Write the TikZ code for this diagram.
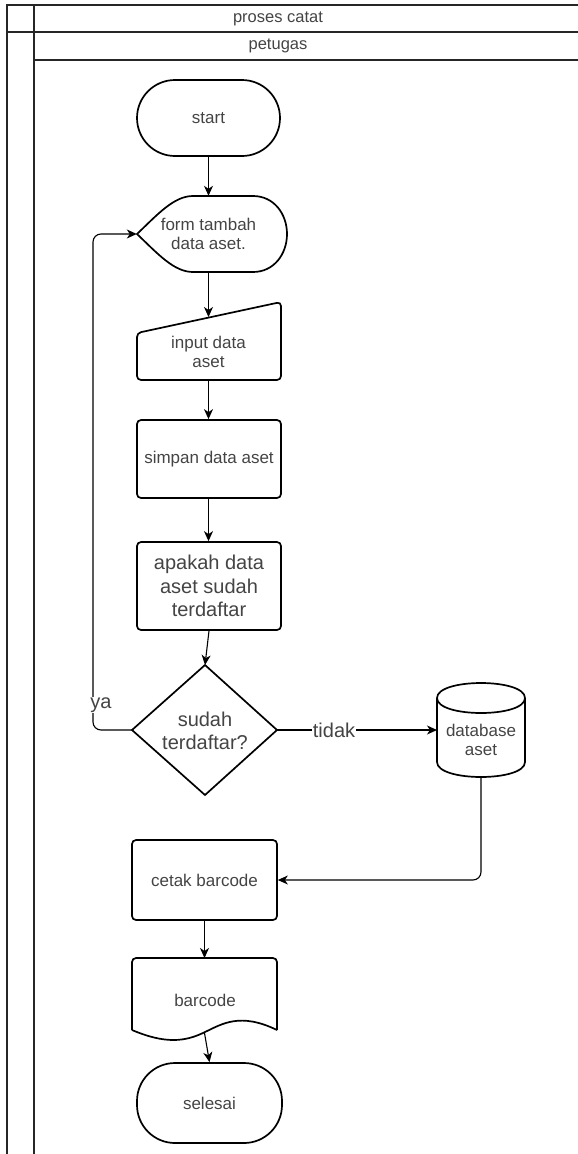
\documentclass[tikz,border=0pt]{standalone}
\usepackage{fontspec}
\setmainfont{Liberation Sans}
\usetikzlibrary{arrows.meta}
\definecolor{txt}{RGB}{68,68,68}
\begin{document}
\begin{tikzpicture}[x=1pt,y=-1pt,
  shapeline/.style={draw=black, line width=1.7pt},
  lane/.style={draw=black!85, line width=1.6pt},
  conn/.style={draw=black, line width=1.1pt, -{Stealth[length=10pt,width=9pt,inset=3pt]}},
  lbl/.style={text=txt, font=\fontsize{17}{18.5}\selectfont, align=center, inner sep=0pt},
  hdr/.style={text=txt, font=\fontsize{16.5}{18}\selectfont, inner sep=0pt},
  biglbl/.style={text=txt, font=\fontsize{20}{23}\selectfont, align=center, inner sep=0pt},
  edgelbl/.style={text=txt, font=\fontsize{20}{22}\selectfont, fill=white, inner sep=1pt},
  procbox/.style={shapeline, rectangle, rounded corners=4pt, text=txt, align=center, inner sep=0pt},
  term/.style={shapeline, rectangle, rounded corners=38pt, text=txt, align=center, inner sep=0pt,
    font=\fontsize{17}{18.5}\selectfont}
]
\useasboundingbox (0,0) rectangle (578,1154);
% swimlane frame
\draw[lane] (7,1154) -- (7,5) -- (578,5);
\draw[lane] (7,32) -- (578,32);
\draw[lane] (34,5) -- (34,1154);
\draw[lane] (34,60) -- (578,60);
\node[hdr] (pool) at (278,18.5) {proses catat};
\node[hdr] (lanename) at (278,46) {petugas};

% start
\node[term, minimum width=143pt, minimum height=76pt] (start) at (208.5,118) {start};

% form (display shape)
\draw[shapeline] (137,234) .. controls (158,214) and (174,196) .. (193,196) -- (253,196)
  .. controls (274,196) and (287,214) .. (287,234)
  .. controls (287,254) and (274,272) .. (253,272) -- (193,272)
  .. controls (174,272) and (158,254) .. (137,234) -- cycle;
\node[lbl, minimum width=143pt, minimum height=76pt] (form) at (208.5,234) {form tambah\\data aset.};

% manual input
\draw[shapeline, rounded corners=4pt] (137,333) -- (281,302) -- (281,380) -- (137,380) -- cycle;
\node[lbl] (input) at (208.5,352) {input data\\aset};
\coordinate (intop) at (208.5,317);
\coordinate (inbot) at (208.5,380);

% process boxes
\node[procbox, font=\fontsize{17}{18.5}\selectfont, minimum width=144pt, minimum height=78pt] (simpan) at (209,459) {simpan data aset};
\node[procbox, font=\fontsize{20}{23.5}\selectfont, minimum width=144pt, minimum height=88pt] (apakah) at (209,586) {apakah data\\aset sudah\\terdaftar};

% decision
\coordinate (dectop) at (205,665);
\coordinate (decleft) at (132,730);
\coordinate (decright) at (277,730);
\coordinate (decbot) at (205,795);
\draw[shapeline, line join=miter] (dectop) -- (decright) -- (decbot) -- (decleft) -- cycle;
\node[biglbl] (dec) at (205,731) {sudah\\terdaftar?};

% database cylinder
\draw[shapeline] (437,698) .. controls (437,678) and (525,678) .. (525,698)
  .. controls (525,718) and (437,718) .. (437,698) -- cycle;
\draw[shapeline] (437,698) -- (437,762) .. controls (437,782) and (525,782) .. (525,762) -- (525,698);
\node[lbl] (db) at (481,740) {database\\aset};
\coordinate (dbleft) at (437,730);
\coordinate (dbbot) at (481,777);

% cetak barcode
\node[procbox, font=\fontsize{17}{18.5}\selectfont, minimum width=145pt, minimum height=80pt] (cetak) at (204.5,880) {cetak barcode};

% document
\draw[shapeline, rounded corners=4pt] (132,1030) -- (132,958) -- (277,958) -- (277,1030);
\draw[shapeline] (277,1030) .. controls (240,1012) and (222,1024) .. (205,1032)
  .. controls (185,1042) and (165,1044) .. (132,1030);
\node[lbl] (barcode) at (205,1000) {barcode};
\coordinate (doctop) at (204.5,958);
\coordinate (docbot) at (204.5,1033);

% end
\node[term, minimum width=145pt, minimum height=80pt] (selesai) at (209.5,1103) {selesai};

% connectors
\draw[conn] (start.south) -- (form.north);
\draw[conn] (form.south) -- (intop);
\draw[conn] (inbot) -- (simpan.north -| inbot);
\draw[conn] (simpan.north |- simpan.south) ++(-0.5,0) coordinate (simbot) -- (simbot |- apakah.north);
\draw[conn] (apakah.south) -- (dectop);
\draw[conn, rounded corners=8pt] (decleft) -- (93,730) -- (93,234) -- (form.west);
\node[edgelbl] (ya) at (101,705) {ya};
\draw[conn] (decright) -- (dbleft);
\node[edgelbl] (tidak) at (334,730) {tidak};
\draw[conn, rounded corners=8pt] (dbbot) -- (481,880) -- (cetak.east);
\draw[conn] (cetak.south) -- (doctop);
\draw[conn] (docbot) -- (selesai.north);
\end{tikzpicture}
\end{document}
